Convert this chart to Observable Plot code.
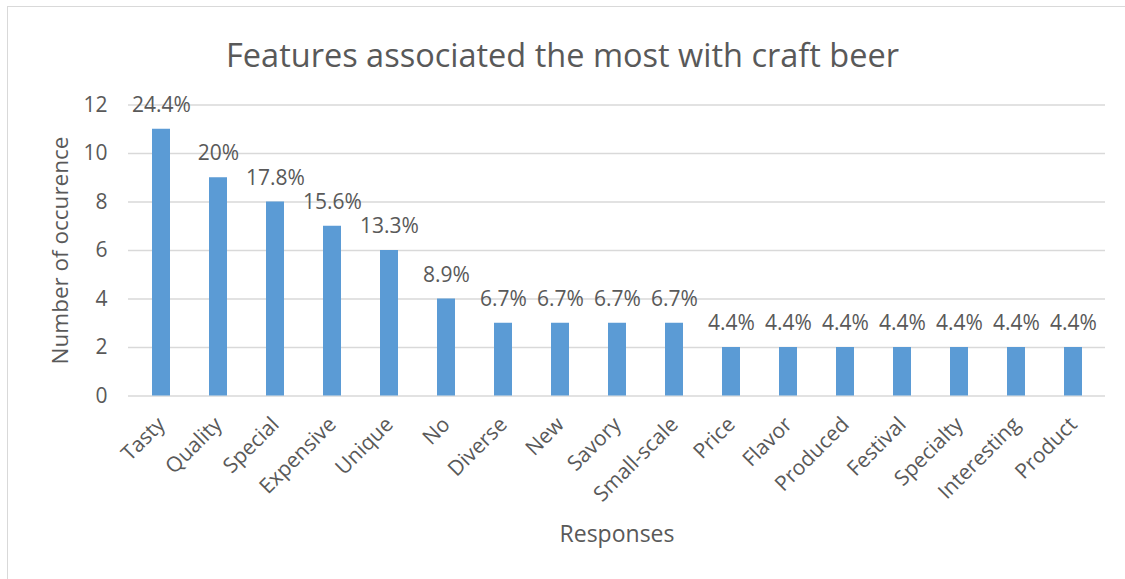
<!DOCTYPE html>
<html>
<head>
<meta charset="utf-8">
<script src="https://cdn.jsdelivr.net/npm/d3@7"></script>
<script src="https://cdn.jsdelivr.net/npm/@observablehq/plot@0.6"></script>
<style>
  html, body { margin: 0; padding: 0; background: #fff; overflow: hidden; }
  #wrap { position: relative; width: 1125px; height: 579px; overflow: hidden; font-family: "Open Sans", sans-serif; background: #fff; }
  #frame { position: absolute; left: 7px; top: 6px; width: 1140px; height: 600px; border: 1.5px solid #d9d9d9; box-sizing: border-box; z-index: 2; pointer-events: none; }
  #title { position: absolute; left: 0; top: 0; width: 1125px; height: 90px; line-height: 110px; text-align: center; font-size: 32.5px; color: #595959; }
  #chart { position: absolute; left: 0; top: 90px; }
</style>
</head>
<body>
<div id="wrap">
  <div id="frame"></div>
  <div id="title">Features associated the most with craft beer</div>
  <div id="chart"></div>
</div>
<script>
const categories = ["Tasty","Quality","Special","Expensive","Unique","No","Diverse","New","Savory","Small-scale","Price","Flavor","Produced","Festival","Specialty","Interesting","Product"];
const counts = [11, 9, 8, 7, 6, 4, 3, 3, 3, 3, 2, 2, 2, 2, 2, 2, 2];
const percentLabels = ["24.4%","20%","17.8%","15.6%","13.3%","8.9%","6.7%","6.7%","6.7%","6.7%","4.4%","4.4%","4.4%","4.4%","4.4%","4.4%","4.4%"];
const yTicks = [0, 2, 4, 6, 8, 10, 12];

const data = categories.map((c, i) => ({category: c, count: counts[i], label: percentLabels[i]}));

const textColor = "#595959";
const chart = Plot.plot({
  width: 1125,
  height: 489,
  marginLeft: 128,
  marginRight: 20,
  marginTop: 14.5,
  marginBottom: 183.5,
  style: {fontFamily: "Open Sans, sans-serif", color: textColor, background: "transparent", overflow: "visible"},
  x: {domain: categories, paddingInner: 0.687, paddingOuter: 0.3435},
  y: {domain: [0, 12]},
  marks: [
    Plot.ruleY(yTicks, {stroke: "#d9d9d9", strokeWidth: 1.5}),
    Plot.barY(data, {x: "category", y: "count", fill: "#5b9bd5"}),
    Plot.text(data, {x: "category", y: "count", text: "label", dy: -24, fontSize: 21, fill: textColor}),
    Plot.axisY({ticks: yTicks, tickSize: 0, tickPadding: 21, fontSize: 21, fill: textColor, label: null, tickFormat: d => String(d)}),
    Plot.axisX({tickSize: 0, tickPadding: 25, tickRotate: -45, fontSize: 21, fill: textColor, label: null}),
    Plot.text(["Responses"], {frameAnchor: "bottom", dy: 146, fontSize: 23, fill: textColor}),
    Plot.text(["Number of occurence"], {frameAnchor: "left", textAnchor: "middle", dx: -68, rotate: -90, fontSize: 22.5, fill: textColor})
  ]
});
document.getElementById("chart").appendChild(chart);
</script>
</body>
</html>
